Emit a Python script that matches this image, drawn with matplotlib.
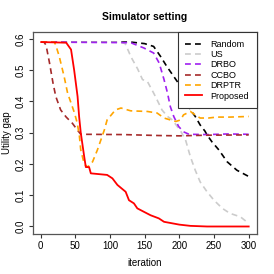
import matplotlib
matplotlib.use("Agg")
import matplotlib.pyplot as plt

plt.rcParams['font.family'] = ['Liberation Sans', 'DejaVu Sans']

title = "Simulator setting"
xlabel = "iteration"
ylabel = "Utility gap"
xticks = [0, 50, 100, 150, 200, 250, 300]
yticks = [0.0, 0.1, 0.2, 0.3, 0.4, 0.5, 0.6]

random_x = [1, 130, 150, 163, 173, 182, 192, 202, 209, 216, 223, 230, 237, 240, 247, 257, 269, 283, 300]
random_y = [0.59, 0.59, 0.585, 0.576, 0.544, 0.512, 0.48, 0.448, 0.416, 0.373, 0.352, 0.325, 0.305, 0.293, 0.271, 0.245, 0.207, 0.18, 0.16]

us_x = [1, 115, 122, 127, 130, 140, 147, 154, 163, 168, 175, 183, 190, 197, 202, 209, 216, 223, 230, 240, 250, 262, 273, 288, 300]
us_y = [0.59, 0.59, 0.585, 0.56, 0.544, 0.504, 0.47, 0.464, 0.427, 0.405, 0.373, 0.352, 0.341, 0.32, 0.305, 0.277, 0.223, 0.18, 0.143, 0.111, 0.084, 0.058, 0.042, 0.031, 0.01]

drbo_x = [1, 130, 149, 163, 171, 178, 183, 187, 192, 199, 206, 214, 240, 270, 300]
drbo_y = [0.59, 0.588, 0.571, 0.555, 0.523, 0.47, 0.427, 0.384, 0.352, 0.32, 0.303, 0.295, 0.294, 0.296, 0.295]

ccbo_x = [1, 5, 8, 13, 18, 22, 29, 37, 46, 53, 58, 120, 170, 200, 240, 300]
ccbo_y = [0.59, 0.59, 0.58, 0.523, 0.459, 0.416, 0.373, 0.35, 0.33, 0.309, 0.295, 0.294, 0.291, 0.29, 0.292, 0.293]

drptr_x = [1, 20, 22, 27, 34, 39, 44, 49, 53, 56, 58, 63, 68, 75, 82, 87, 92, 96, 108, 116, 130, 154, 168, 178, 187, 195, 202, 206, 216, 223, 230, 242, 254, 273, 300]
drptr_y = [0.59, 0.59, 0.58, 0.544, 0.48, 0.427, 0.395, 0.363, 0.33, 0.29, 0.245, 0.2, 0.19, 0.207, 0.245, 0.277, 0.309, 0.341, 0.373, 0.379, 0.37, 0.368, 0.363, 0.347, 0.341, 0.336, 0.341, 0.357, 0.368, 0.357, 0.347, 0.347, 0.35, 0.35, 0.352]

prop_x = [1, 37, 44, 48.5, 53.4, 55.7, 58, 63, 65.3, 70, 72.5, 96, 103.6, 110.8, 122.7, 127.5, 134.6, 139.5, 149, 158.6, 170.5, 178, 200, 216, 240, 300]
prop_y = [0.59, 0.588, 0.566, 0.50, 0.416, 0.35, 0.30, 0.223, 0.19, 0.19, 0.17, 0.165, 0.154, 0.133, 0.111, 0.084, 0.074, 0.058, 0.047, 0.036, 0.026, 0.015, 0.006, 0.002, 0.0, 0.0]

series = [
    ("Random", random_x, random_y, "black", True),
    ("US", us_x, us_y, "#cccccc", True),
    ("DRBO", drbo_x, drbo_y, "#a020f0", True),
    ("CCBO", ccbo_x, ccbo_y, "#a52a2a", True),
    ("DRPTR", drptr_x, drptr_y, "#ffa500", True),
    ("Proposed", prop_x, prop_y, "red", False),
]

fig = plt.figure(figsize=(2.74, 2.74), dpi=100)
ax = fig.add_axes([0.120, 0.146, 0.818, 0.737])

for name, xs, ys, col, dashed in series:
    if dashed:
        ax.plot(xs, ys, color=col, lw=1.2, dashes=(3.5, 2.5), label=name)
    else:
        ax.plot(xs, ys, color=col, lw=1.3, label=name)

ax.set_xlim(-11, 312)
ax.set_ylim(-0.024, 0.622)
ax.set_xticks(xticks)
ax.set_yticks(yticks)
ax.set_xticklabels([str(t) for t in xticks], fontsize=7)
ax.set_yticklabels([f"{t:.1f}" for t in yticks], fontsize=7, rotation=90, va='center')
ax.tick_params(direction='out', length=3, width=0.8, pad=2, colors='#333333', labelcolor='black')
for s in ax.spines.values():
    s.set_linewidth(0.9)
    s.set_color('#555555')

ax.set_title(title, fontsize=7.5, fontweight='bold', pad=9)
ax.set_xlabel(xlabel, fontsize=7, labelpad=5)
ax.set_ylabel(ylabel, fontsize=7, labelpad=3)

leg = ax.legend(loc='upper right', bbox_to_anchor=(1.0, 1.0), borderaxespad=0.0,
                fontsize=6.5, frameon=True, fancybox=False, framealpha=1,
                edgecolor='#333333', handlelength=1.8, handletextpad=1.0,
                labelspacing=0.15, borderpad=0.85)
leg.get_frame().set_linewidth(0.8)

fig.savefig("out.png", dpi=100)
